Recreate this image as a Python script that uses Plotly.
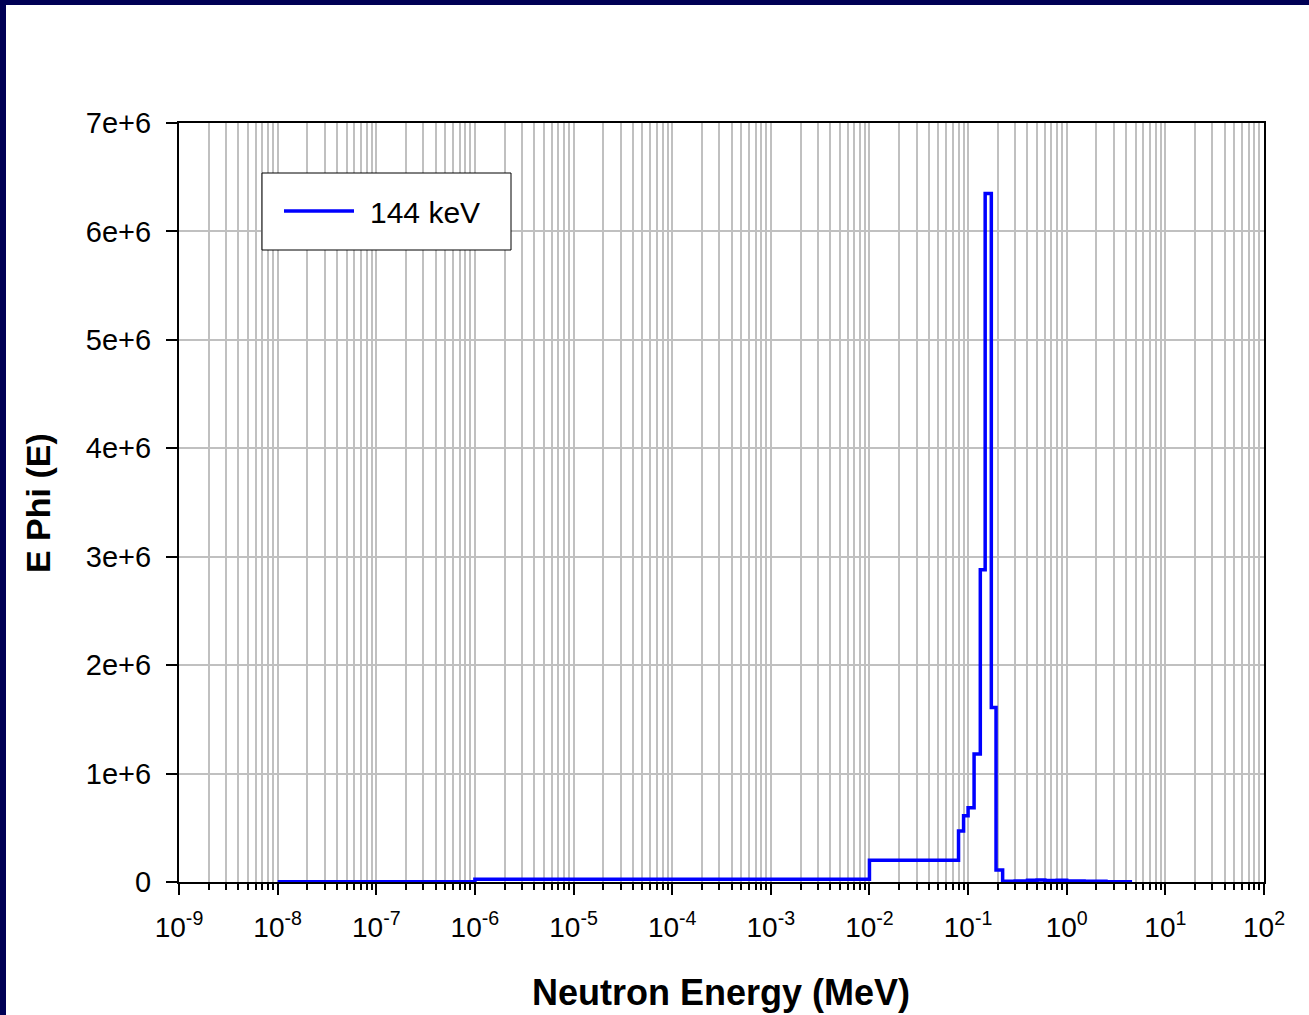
import plotly.graph_objects as go

# ---- data ----
series_name = "144 keV"
bin_edges_mev = [1e-8, 1e-6, 1e-2, 0.080, 0.090, 0.100, 0.115, 0.133, 0.149, 0.172,
                 0.192, 0.224, 0.30, 0.40, 0.50, 0.60, 0.80, 1.0, 1.5, 2.5, 4.6]
ephi_values = [2000, 25000, 200000, 470000, 610000, 685000, 1180000, 2880000, 6350000,
               1610000, 110000, 8000, 10000, 15000, 18000, 14000, 17000, 10000, 6000, 3000]
x_tick_exponents = [-9, -8, -7, -6, -5, -4, -3, -2, -1, 0, 1, 2]
y_tick_values = [0, 1e6, 2e6, 3e6, 4e6, 5e6, 6e6, 7e6]
y_tick_labels = ["0", "1e+6", "2e+6", "3e+6", "4e+6", "5e+6", "6e+6", "7e+6"]
x_title = "Neutron Energy (MeV)"
y_title = "E Phi (E)"

# ---- layout geometry (pixels) ----
W, H = 1309, 1015
L, R, T, B = 179, 1264, 123, 882
PW, PH = R - L, B - T

def px(x):
    return (x - L) / PW

def py(y):
    return (B - y) / PH

FONT = "Liberation Sans, Arial, Helvetica, sans-serif"
GRID = "#C0C0C0"
NAVY = "#000055"

x_vals = bin_edges_mev
y_vals = ephi_values + [ephi_values[-1]]

fig = go.Figure()
fig.add_trace(go.Scatter(
    x=x_vals, y=y_vals, mode="lines", line_shape="hv",
    line=dict(color="#0000FF", width=3.5), name=series_name, showlegend=False,
))

major_vals = [10.0 ** e for e in x_tick_exponents]
major_text = [f"10<sup>{e}</sup>" for e in x_tick_exponents]
minor_vals = [m * 10.0 ** e for e in x_tick_exponents[:-1] for m in range(2, 10)]

fig.update_xaxes(
    type="log", range=[x_tick_exponents[0], x_tick_exponents[-1]],
    tickmode="array", tickvals=major_vals, ticktext=major_text,
    ticks="outside", ticklen=11, tickwidth=1.5, tickcolor="black",
    showline=True, linecolor="black", linewidth=2, mirror=True,
    showgrid=True, gridcolor=GRID, gridwidth=1.5,
    minor=dict(tickmode="array", tickvals=minor_vals, ticks="outside", ticklen=6,
               tickwidth=1.5, tickcolor="black", showgrid=True, gridcolor=GRID, gridwidth=1.5),
    tickfont=dict(family=FONT, size=28, color="black"),
    ticklabelstandoff=8, zeroline=False,
)
fig.update_yaxes(
    range=[0, 7e6], tickmode="array", tickvals=y_tick_values, ticktext=y_tick_labels,
    ticks="outside", ticklen=11, tickwidth=1.5, tickcolor="black",
    showline=True, linecolor="black", linewidth=2, mirror=True,
    showgrid=True, gridcolor=GRID, gridwidth=1.5, zeroline=False,
    tickfont=dict(family=FONT, size=29, color="black"),
    ticklabelstandoff=9,
)

shapes = [
    # navy frame (top and left edges of the slide)
    dict(type="rect", xref="paper", yref="paper", x0=px(0), x1=px(W), y0=py(0), y1=py(5),
         fillcolor=NAVY, line=dict(width=0), layer="above"),
    dict(type="rect", xref="paper", yref="paper", x0=px(0), x1=px(6), y0=py(0), y1=py(H),
         fillcolor=NAVY, line=dict(width=0), layer="above"),
    # legend box
    dict(type="rect", xref="paper", yref="paper", x0=px(262), x1=px(511), y0=py(173), y1=py(250),
         fillcolor="white", line=dict(color="black", width=1), layer="above"),
    dict(type="line", xref="paper", yref="paper", x0=px(284), x1=px(354), y0=py(211), y1=py(211),
         line=dict(color="#0000FF", width=3.5), layer="above"),
]

annotations = [
    dict(text=series_name, xref="paper", yref="paper", x=px(368), y=py(212),
         xanchor="left", yanchor="middle", showarrow=False,
         font=dict(family=FONT, size=30, color="black")),
    dict(text=f"<b>{x_title}</b>", xref="paper", yref="paper", x=px(721), y=py(992),
         xanchor="center", yanchor="middle", showarrow=False,
         font=dict(family=FONT, size=36, color="black")),
    dict(text=f"<b>{y_title}</b>", xref="paper", yref="paper", x=px(38), y=py(503),
         xanchor="center", yanchor="middle", showarrow=False, textangle=-90,
         font=dict(family=FONT, size=34, color="black")),
]

fig.update_layout(
    width=W, height=H,
    margin=dict(l=L, r=W - R, t=T, b=H - B, pad=0),
    paper_bgcolor="white", plot_bgcolor="white",
    shapes=shapes, annotations=annotations, showlegend=False,
    font=dict(family=FONT, color="black"),
)

fig.write_html("out.html")
